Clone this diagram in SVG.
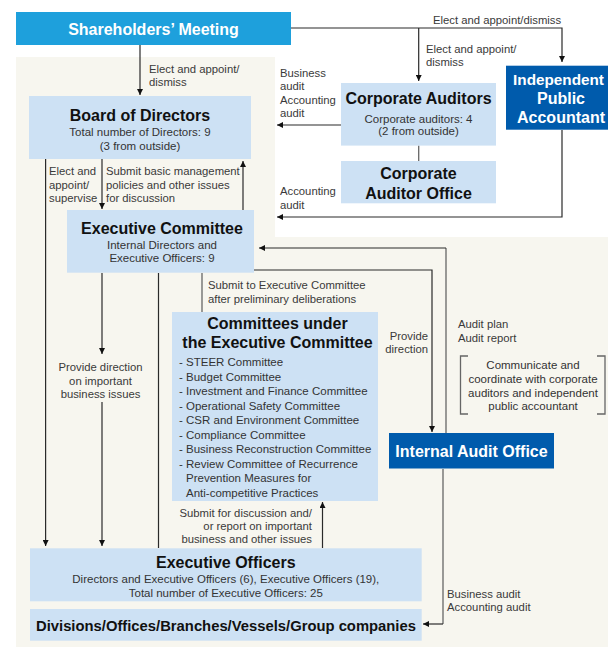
<svg xmlns="http://www.w3.org/2000/svg" width="608" height="647" viewBox="0 0 608 647">
<style>
text{font-family:"Liberation Sans",Arial,Helvetica,sans-serif;}
.t{font-size:16px;font-weight:bold;fill:#111;text-anchor:middle;}
.tw{font-size:16px;font-weight:bold;fill:#fff;text-anchor:middle;}
.s{font-size:11.5px;fill:#333;text-anchor:middle;}
.l{font-size:11.3px;fill:#3a3a3a;}
.li{font-size:11.5px;fill:#333;}
.lb{fill:#cde1f4;}
.db{fill:#005bac;}
.c{fill:none;stroke:#2a2a2a;stroke-width:1.2;}
.g{fill:none;stroke:#666;stroke-width:1.3;}
.a{marker-end:url(#ah);}
</style>
<defs>
<marker id="ah" viewBox="0 0 10 10" refX="10" refY="5" markerWidth="6" markerHeight="6" markerUnits="userSpaceOnUse" orient="auto">
<path d="M0,0 L10,5 L0,10 Z" fill="#111"/>
</marker>
</defs>
<rect width="608" height="647" fill="#fff"/>
<path d="M16,57 H275 V237 H608 V647 H16 Z" fill="#f7f6ef"/>

<g id="connectors">
<path class="c" d="M291,28 H562 V62" marker-end="url(#ah)"/>
<path class="c a" d="M418.7,28 V81"/>
<path class="c a" d="M140,45 V95"/>
<path class="c a" d="M341,125 H277"/>
<path class="g" d="M418.7,145.6 V161"/>
<path class="c a" d="M562,130 V217 H277"/>
<path class="c a" d="M45.6,159 V546"/>
<path class="c a" d="M102,159 V209"/>
<path class="c a" d="M243,210 V161"/>
<path class="c a" d="M102,273 V354"/>
<path class="c a" d="M102,402 V546"/>
<path class="c" d="M158.5,273 V548"/>
<path class="g" d="M202,273 V312"/>
<path class="c a" d="M254,270 H432 V432"/>
<path class="g" d="M446,433 V248"/>
<path class="c a" d="M446,248 H259"/>
<path class="g" d="M443,469 V624"/>
<path class="c a" d="M443,624 H423"/>
<path class="c a" d="M322.5,548 V502"/>
<path class="g" d="M468,356 H460.5 V414 H468 M597,356 H605 V414 H597"/>
</g>

<g id="labels">
<text class="l" x="433" y="24">Elect and appoint/dismiss</text>
<text class="l" x="426" y="52.5">Elect and appoint/</text>
<text class="l" x="426" y="66">dismiss</text>
<text class="l" x="149" y="72.5">Elect and appoint/</text>
<text class="l" x="149" y="85.5">dismiss</text>
<text class="l" x="280" y="77">Business</text>
<text class="l" x="280" y="90">audit</text>
<text class="l" x="280" y="104">Accounting</text>
<text class="l" x="280" y="117">audit</text>
<text class="l" x="280" y="195">Accounting</text>
<text class="l" x="280" y="208.5">audit</text>
<text class="l" x="49" y="175">Elect and</text>
<text class="l" x="49" y="188.5">appoint/</text>
<text class="l" x="49" y="202">supervise</text>
<text class="l" x="106" y="175">Submit basic management</text>
<text class="l" x="106" y="188.5">policies and other issues</text>
<text class="l" x="106" y="202">for discussion</text>
<text class="l" x="208" y="289">Submit to Executive Committee</text>
<text class="l" x="208" y="303">after preliminary deliberations</text>
<text class="l" x="100.5" y="371" text-anchor="middle">Provide direction</text>
<text class="l" x="100.5" y="384.5" text-anchor="middle">on important</text>
<text class="l" x="100.5" y="398" text-anchor="middle">business issues</text>
<text class="l" x="428" y="340" text-anchor="end">Provide</text>
<text class="l" x="428" y="353" text-anchor="end">direction</text>
<text class="l" x="458" y="328">Audit plan</text>
<text class="l" x="458" y="342">Audit report</text>
<text class="s" x="533" y="369">Communicate and</text>
<text class="s" x="533" y="383">coordinate with corporate</text>
<text class="s" x="533" y="396.5">auditors and independent</text>
<text class="s" x="533" y="409.5">public accountant</text>
<text class="l" x="312" y="516.5" text-anchor="end">Submit for discussion and/</text>
<text class="l" x="312" y="530" text-anchor="end">or report on important</text>
<text class="l" x="312" y="543" text-anchor="end">business and other issues</text>
<text class="l" x="447" y="597.5">Business audit</text>
<text class="l" x="447" y="611">Accounting audit</text>
</g>

<g id="shareholders">
<rect x="16" y="12" width="275" height="33" fill="#1ea0dc"/>
<text class="tw" x="153.5" y="35">Shareholders’ Meeting</text>
</g>

<g id="board">
<rect class="lb" x="29" y="96" width="222" height="63"/>
<text class="t" x="140" y="120.5">Board of Directors</text>
<text class="s" x="140" y="136">Total number of Directors: 9</text>
<text class="s" x="140" y="150">(3 from outside)</text>
</g>

<g id="corporate-auditors">
<rect class="lb" x="341" y="83" width="155" height="62.6"/>
<text class="t" x="418.5" y="104">Corporate Auditors</text>
<text class="s" x="418.5" y="122.5">Corporate auditors: 4</text>
<text class="s" x="418.5" y="135">(2 from outside)</text>
</g>

<g id="corporate-auditor-office">
<rect class="lb" x="341" y="161" width="155" height="42.3"/>
<text class="t" x="418.5" y="179">Corporate</text>
<text class="t" x="418.5" y="198.5">Auditor Office</text>
</g>

<g id="independent-public-accountant">
<rect class="db" x="506" y="65.7" width="102" height="64"/>
<text class="tw" x="558.5" y="84.5" style="font-size:15.3px">Independent</text>
<text class="tw" x="561" y="103.5">Public</text>
<text class="tw" x="561" y="122.5">Accountant</text>
</g>

<g id="executive-committee">
<rect class="lb" x="67" y="210" width="187" height="62.7"/>
<text class="t" x="162" y="233.5">Executive Committee</text>
<text class="s" x="162" y="249">Internal Directors and</text>
<text class="s" x="162" y="262">Executive Officers: 9</text>
</g>

<g id="committees">
<rect class="lb" x="172" y="312" width="206" height="189"/>
<text class="t" x="277.5" y="328.5">Committees under</text>
<text class="t" x="277.5" y="347.5">the Executive Committee</text>
<text class="li" x="179" y="366">- STEER Committee</text>
<text class="li" x="179" y="380.5">- Budget Committee</text>
<text class="li" x="179" y="395">- Investment and Finance Committee</text>
<text class="li" x="179" y="409.5">- Operational Safety Committee</text>
<text class="li" x="179" y="424">- CSR and Environment Committee</text>
<text class="li" x="179" y="438.5">- Compliance Committee</text>
<text class="li" x="179" y="453">- Business Reconstruction Committee</text>
<text class="li" x="179" y="467.5">- Review Committee of Recurrence</text>
<text class="li" x="186" y="482">Prevention Measures for</text>
<text class="li" x="186" y="496.5">Anti-competitive Practices</text>
</g>

<g id="internal-audit-office">
<rect class="db" x="389" y="433" width="165" height="35.5"/>
<text class="tw" x="471.5" y="456.5">Internal Audit Office</text>
</g>

<g id="executive-officers">
<rect class="lb" x="30" y="548.3" width="391.7" height="53"/>
<text class="t" x="225.8" y="567.5">Executive Officers</text>
<text class="s" x="225.8" y="583">Directors and Executive Officers (6), Executive Officers (19),</text>
<text class="s" x="225.8" y="596.5">Total number of Executive Officers: 25</text>
</g>

<g id="divisions">
<rect class="lb" x="30" y="609" width="391.7" height="31.7"/>
<text x="36" y="631" style="font-size:14.8px;font-weight:bold;fill:#111">Divisions/Offices/Branches/Vessels/Group companies</text>
</g>
</svg>
